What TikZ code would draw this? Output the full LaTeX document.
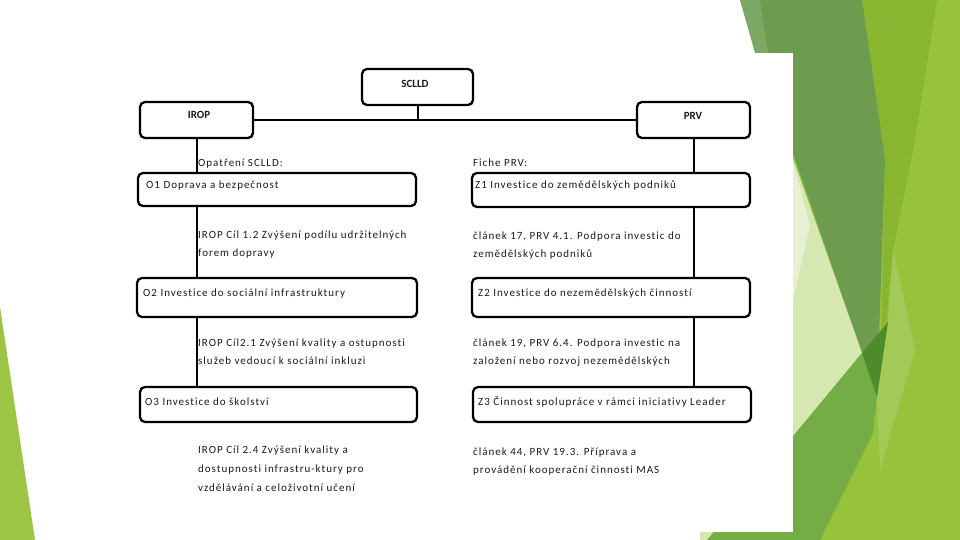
\documentclass[tikz,border=0pt]{standalone}
\usepackage{fontspec}
\setmainfont{Carlito}
\newfontfamily\spacedfont[LetterSpace=9,Ligatures={NoCommon}]{Carlito}
\definecolor{limebase}{HTML}{96C33B}
\definecolor{limedark}{HTML}{88B630}
\definecolor{facetdark}{HTML}{6E9C4E}
\definecolor{facetgray}{HTML}{7BA863}
\definecolor{deepgreen}{HTML}{4E8B2B}
\definecolor{midgreen}{HTML}{74AD45}
\definecolor{palegreen}{HTML}{D6E7B2}
\definecolor{palelight}{HTML}{E6F0D2}
\definecolor{lightband}{HTML}{A3CA58}
\definecolor{lefttri}{HTML}{9DC544}
\definecolor{inktext}{HTML}{1A1A1A}
\begin{document}
\begin{tikzpicture}[x=1pt,y=-1pt,
  box/.style={draw=black, line width=2.3pt, rounded corners=5pt, fill=white, inner sep=0pt},
  conn/.style={draw=black, line width=2pt},
  hdr/.style={font=\fontsize{11}{13}\selectfont\bfseries, anchor=base, inner sep=0pt, text=inktext},
  txt/.style={font=\spacedfont\fontsize{11}{13}\selectfont, anchor=base west, inner sep=0pt, text=inktext}]
\useasboundingbox (0,0) rectangle (960,540);
% decorative background facets
\fill[limebase] (760,0) -- (960,0) -- (960,540) -- (793,540) -- (793,53) -- cycle;
\fill[limedark] (860,0) -- (937,0) -- (915,140) -- (893,250) -- (880,390) -- (885,160) -- cycle;
\fill[facetdark] (740,0) -- (862,0) -- (885,160) -- (877,397) -- (862,353) -- cycle;
\fill[facetgray] (740,0) -- (760,0) -- (768,53) -- (755,53) -- cycle;
\fill[palegreen] (790,150) -- (862,353) -- (707,540) -- (700,540) -- (700,150) -- cycle;
\fill[palelight] (790,150) -- (810,225) -- (793,300) -- (790,300) -- cycle;
\fill[midgreen] (707,540) -- (862,353) -- (877,397) -- (873,433) -- (820,540) -- cycle;
\fill[lightband] (893,250) -- (915,350) -- (880,470) -- (877,397) -- (888,322) -- cycle;
\fill[deepgreen] (862,353) -- (888,322) -- (877,397) -- cycle;
\fill[lefttri] (0,307) -- (35,540) -- (0,540) -- cycle;
% white inset
\fill[white] (50,53) rectangle (793,532);
% boxes
\node[box, minimum width=111pt, minimum height=36pt] (sclld) at (417.5,87) {};
\node[box, minimum width=113pt, minimum height=36pt] (irop) at (196.5,120) {};
\node[box, minimum width=113pt, minimum height=36pt] (prv) at (693.5,120) {};
\node[box, minimum width=278pt, minimum height=33pt] (o1) at (277,189.5) {};
\node[box, minimum width=278pt, minimum height=34pt] (z1) at (611,190) {};
\node[box, minimum width=280pt, minimum height=39pt] (o2) at (277,297.5) {};
\node[box, minimum width=278pt, minimum height=39pt] (z2) at (611,297.5) {};
\node[box, minimum width=277pt, minimum height=35pt] (o3) at (278.5,404.5) {};
\node[box, minimum width=278pt, minimum height=35pt] (z3) at (612,404.5) {};
% connectors
\draw[conn] (irop.east) -- (prv.west);
\draw[conn] (sclld.south) -- (sclld.south |- irop.east);
\draw[conn] (irop.south) -- (irop.south |- o1.north);
\draw[conn] (irop.south |- o1.south) -- (irop.south |- o2.north);
\draw[conn] (irop.south |- o2.south) -- (irop.south |- o3.north);
\draw[conn] (prv.south) -- (prv.south |- z1.north);
\draw[conn] (prv.south |- z1.south) -- (prv.south |- z2.north);
\draw[conn] (prv.south |- z2.south) -- (prv.south |- z3.north);
% headers
\node[hdr] (tsclld) at (415,88) {SCLLD};
\node[hdr] (tirop) at (199,119) {IROP};
\node[hdr] (tprv) at (693,120) {PRV};
% texts
\node[txt] (opat) at (198,167) {Opatření SCLLD:};
\node[txt] (fiche) at (473,167) {Fiche PRV:};
\node[txt] (o1t) at (146,189) {O1 Doprava a bezpečnost};
\node[txt] (z1t) at (475,189) {Z1 Investice do zemědělských podniků};
\node[txt] (d1a) at (198,238) {IROP Cíl 1.2 Zvýšení podílu udržitelných};
\node[txt] (d1b) at (198,256) {forem dopravy};
\node[txt] (e1a) at (473,239) {článek 17, PRV 4.1. Podpora investic do};
\node[txt] (e1b) at (473,257) {zemědělských podniků};
\node[txt] (o2t) at (143,296) {O2 Investice do sociální infrastruktury};
\node[txt] (z2t) at (478,296) {Z2 Investice do nezemědělských činností};
\node[txt] (d2a) at (198,346) {IROP Cíl2.1 Zvýšení kvality a ostupnosti};
\node[txt] (d2b) at (198,364) {služeb vedoucí k sociální inkluzi};
\node[txt] (e2a) at (473,346) {článek 19, PRV 6.4. Podpora investic na};
\node[txt] (e2b) at (473,364) {založení nebo rozvoj nezemědělských};
\node[txt] (o3t) at (145,405) {O3 Investice do školství};
\node[txt] (z3t) at (478,405) {Z3 Činnost spolupráce v rámci iniciativy Leader};
\node[txt] (d3a) at (198,453) {IROP Cíl 2.4 Zvýšení kvality a};
\node[txt] (d3b) at (198,472) {dostupnosti infrastru-ktury pro};
\node[txt] (d3c) at (198,491) {vzdělávání a celoživotní učení};
\node[txt] (e3a) at (473,455) {článek 44, PRV 19.3. Příprava a};
\node[txt] (e3b) at (473,473) {provádění kooperační činnosti MAS};
\end{tikzpicture}
\end{document}
